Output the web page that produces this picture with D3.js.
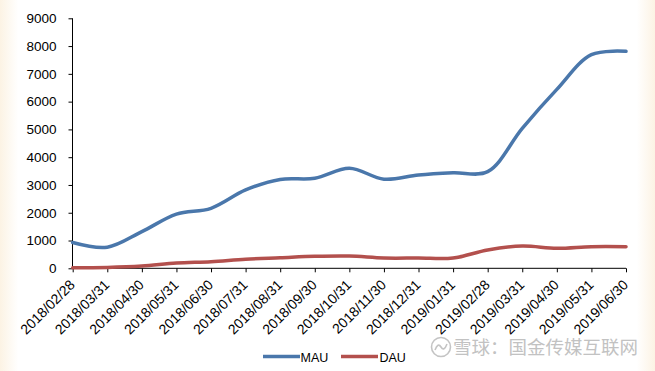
<!DOCTYPE html>
<html>
<head>
<meta charset="utf-8">
<script src="https://cdn.jsdelivr.net/npm/d3@7/dist/d3.min.js"></script>
<style>
  html, body { margin: 0; padding: 0; background: #fff; }
  svg { display: block; }
</style>
</head>
<body>
<svg id="chart" width="655" height="371"></svg>
<script>
const categories = ["2018/02/28","2018/03/31","2018/04/30","2018/05/31","2018/06/30","2018/07/31","2018/08/31","2018/09/30","2018/10/31","2018/11/30","2018/12/31","2019/01/31","2019/02/28","2019/03/31","2019/04/30","2019/05/31","2019/06/30"];
const mau = [930, 760, 1320, 1950, 2160, 2820, 3200, 3240, 3600, 3210, 3360, 3440, 3480, 5040, 6440, 7690, 7810];
const dau = [20, 30, 80, 190, 240, 330, 380, 430, 440, 370, 370, 370, 660, 800, 720, 780, 780];
const yTicks = [0, 1000, 2000, 3000, 4000, 5000, 6000, 7000, 8000, 9000];
const seriesNames = ["MAU", "DAU"];
const seriesColors = ["#4a77ab", "#b3504d"];
const watermark = "雪球：国金传媒互联网";

const W = 655, H = 371;
const svg = d3.select("#chart");

// background with cream edges
const defs = svg.append("defs");
const grad = defs.append("linearGradient").attr("id", "bg").attr("x1", "0").attr("x2", "1").attr("y1", "0").attr("y2", "0");
grad.append("stop").attr("offset", "0").attr("stop-color", "#fcf3e4");
grad.append("stop").attr("offset", "0.028").attr("stop-color", "#ffffff");
grad.append("stop").attr("offset", "0.972").attr("stop-color", "#ffffff");
grad.append("stop").attr("offset", "1").attr("stop-color", "#fcf3e4");
svg.append("rect").attr("width", W).attr("height", H).attr("fill", "url(#bg)");

const x = d3.scalePoint().domain(categories).range([72.7, 626]);
const y = d3.scaleLinear().domain([0, 9000]).range([268.3, 18.3]);

const font = "'Liberation Sans', Arial, sans-serif";

// Y axis
const yAxis = svg.append("g").attr("transform", "translate(72.5,0)")
  .call(d3.axisLeft(y).tickValues(yTicks).tickSize(4).tickPadding(12).tickFormat(d3.format("d")));
yAxis.select(".domain").attr("stroke", "#000").attr("d", `M-0.0,${y(9000)}V${y(0)}`);
yAxis.selectAll("line").attr("stroke", "#000");
yAxis.selectAll("text").attr("font-family", font).attr("font-size", "13.5px").attr("fill", "#000");

// X axis
const xAxis = svg.append("g").attr("transform", `translate(0,${y(0)})`)
  .call(d3.axisBottom(x).tickSize(4).tickFormat(""));
xAxis.select(".domain").attr("stroke", "#000").attr("d", `M${x(categories[0])},0H${x(categories[categories.length-1])}`);
xAxis.selectAll("line").attr("stroke", "#000");

// X labels rotated
svg.append("g").selectAll("text").data(categories).join("text")
  .attr("transform", d => `translate(${x(d) + 3},${y(0) + 17.5}) rotate(-45)`)
  .attr("text-anchor", "end")
  .attr("font-family", font)
  .attr("font-size", "14px")
  .attr("fill", "#000")
  .text(d => d);

// Lines
const line = d3.line()
  .x((d, i) => x(categories[i]))
  .y(d => y(d))
  .curve(d3.curveCatmullRom.alpha(0.5));

[mau, dau].forEach((s, k) => {
  svg.append("path").datum(s)
    .attr("fill", "none")
    .attr("stroke", seriesColors[k])
    .attr("stroke-width", 3.5)
    .attr("stroke-linejoin", "round")
    .attr("stroke-linecap", "round")
    .attr("d", line);
});

// Legend
const legendItems = [{x0: 263, x1: 300, tx: 300.5}, {x0: 341, x1: 378, tx: 379.5}];
const lg = svg.append("g");
seriesNames.forEach((n, k) => {
  const it = legendItems[k];
  lg.append("line").attr("x1", it.x0).attr("x2", it.x1).attr("y1", 356.5).attr("y2", 356.5)
    .attr("stroke", seriesColors[k]).attr("stroke-width", 3.5);
  lg.append("text").attr("x", it.tx).attr("y", 361.5).attr("font-family", font).attr("font-size", "12.5px")
    .attr("fill", "#000").text(n);
});

// Watermark
const wm = svg.append("g");
wm.append("circle").attr("cx", 441).attr("cy", 347).attr("r", 9.5).attr("fill", "none").attr("stroke", "#c4c4c4").attr("stroke-width", 1.6);
wm.append("path").attr("d", "M435,350 q3,-8 6,-3 q3,5 6,-3").attr("fill", "none").attr("stroke", "#c4c4c4").attr("stroke-width", 1.6);
wm.append("text").attr("x", 453).attr("y", 354).attr("font-family", "'Noto Sans CJK SC', sans-serif")
  .attr("font-size", "18.5px").attr("fill", "#c2c2c2").text(watermark);
</script>
</body>
</html>
